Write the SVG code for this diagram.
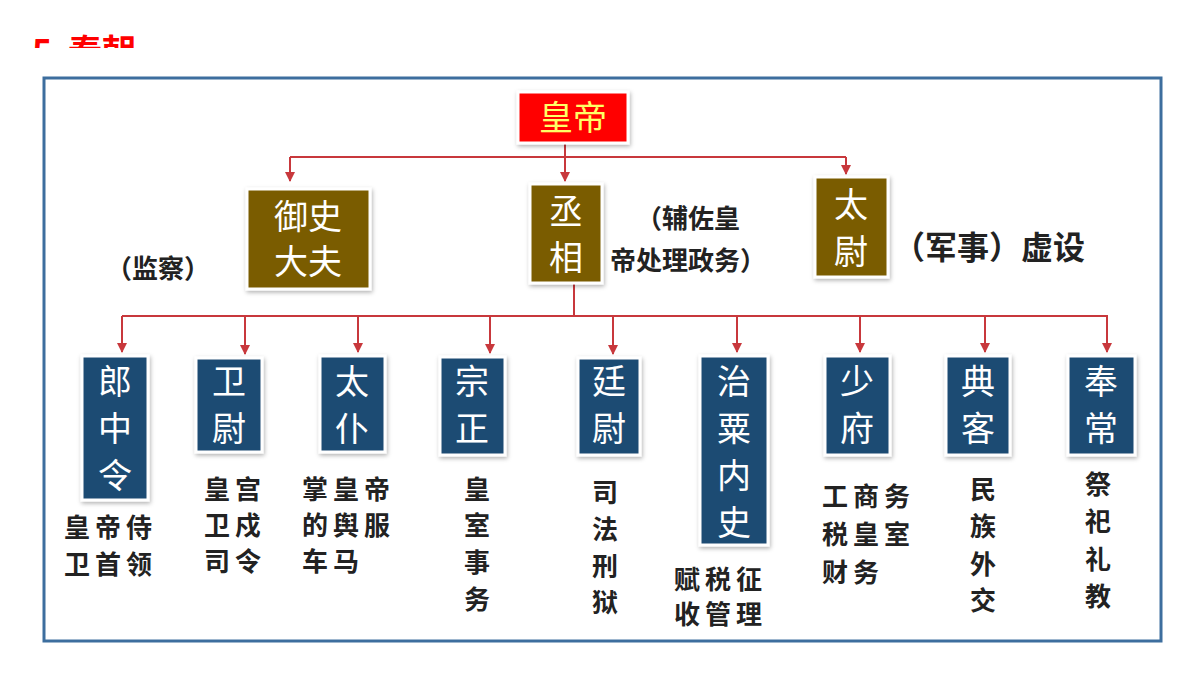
<svg xmlns="http://www.w3.org/2000/svg" width="1200" height="675" viewBox="0 0 1200 675">
<defs>
<style>
.t{font-family:"Noto Sans CJK SC","Noto Sans",sans-serif;}
.bx{stroke:#fff;stroke-width:3;filter:url(#sh);}
.w{fill:#fff;font-size:34px;text-anchor:middle;}
.d{fill:#222;font-size:26px;font-weight:bold;}
.c{fill:none;stroke:#c8383c;stroke-width:2;}
</style>
<filter id="sh" x="-20%" y="-20%" width="140%" height="140%"><feDropShadow dx="1" dy="2" stdDeviation="2" flood-color="#000" flood-opacity="0.3"/></filter>
<marker id="a" markerWidth="12" markerHeight="10" refX="6" refY="9" markerUnits="userSpaceOnUse"><path d="M1,0 L11,0 L6,10 z" fill="#c8383c"/></marker>
<clipPath id="cp"><rect x="0" y="0" width="400" height="48"/></clipPath>
</defs>
<rect width="1200" height="675" fill="#fff"/>
<g clip-path="url(#cp)"><text class="t" x="32" y="64" font-size="34" font-weight="bold" fill="#f00">5</text><text class="t" x="68" y="64" font-size="34" font-weight="bold" fill="#f00">秦朝</text></g>
<rect x="44" y="78" width="1117" height="563" fill="none" stroke="#3d6e9e" stroke-width="3"/>
<g id="connectors">
<path class="c" d="M290,157 H846"/>
<path class="c" d="M290,157 V181" marker-end="url(#a)"/>
<path class="c" d="M565,143 V181" marker-end="url(#a)"/>
<path class="c" d="M846,157 V174" marker-end="url(#a)"/>
<path class="c" d="M574,284 V316 M122,316 H1108"/>
<path class="c" d="M122,316 V352" marker-end="url(#a)"/>
<path class="c" d="M245,316 V354" marker-end="url(#a)"/>
<path class="c" d="M358,316 V352" marker-end="url(#a)"/>
<path class="c" d="M490,316 V353" marker-end="url(#a)"/>
<path class="c" d="M613,316 V354" marker-end="url(#a)"/>
<path class="c" d="M737,316 V352" marker-end="url(#a)"/>
<path class="c" d="M860,316 V352" marker-end="url(#a)"/>
<path class="c" d="M985,316 V352" marker-end="url(#a)"/>
<path class="c" d="M1107,316 V352" marker-end="url(#a)"/>
</g>
<g id="n-huangdi"><rect class="bx" x="518" y="92" width="110" height="51" fill="#f00"/><text class="t" x="573" y="130" font-size="34" text-anchor="middle" fill="#ffff66">皇帝</text></g>
<g id="n-yushi"><rect class="bx" x="247" y="189" width="123" height="100" fill="#7a5c00"/><text class="t w" x="308" y="229">御史</text><text class="t w" x="308" y="274">大夫</text></g>
<text class="t d" x="106" y="278">（监察）</text>
<g id="n-chengxiang"><rect class="bx" x="530" y="184" width="72" height="99" fill="#7a5c00"/><text class="t w" x="566" y="224">丞</text><text class="t w" x="566" y="270">相</text></g>
<text class="t d" x="636" y="228">（辅佐皇</text>
<text class="t d" x="610" y="270">帝处理政务）</text>
<g id="n-taiwei"><rect class="bx" x="815" y="177" width="73" height="100" fill="#7a5c00"/><text class="t w" x="851" y="217">太</text><text class="t w" x="851" y="264">尉</text></g>
<text class="t" x="893" y="259" font-size="32" font-weight="bold" fill="#222">（军事）虚设</text>
<g id="n-langzhongling"><rect class="bx" x="82" y="356" width="66" height="144" fill="#1f4b73"/><text class="t w" x="115" y="394">郎</text><text class="t w" x="115" y="441">中</text><text class="t w" x="115" y="488">令</text></g>
<g id="n-weiwei"><rect class="bx" x="196" y="358" width="66" height="94" fill="#1f4b73"/><text class="t w" x="229" y="394">卫</text><text class="t w" x="229" y="441">尉</text></g>
<g id="n-taipu"><rect class="bx" x="320" y="356" width="65" height="96" fill="#1f4b73"/><text class="t w" x="352" y="394">太</text><text class="t w" x="352" y="441">仆</text></g>
<g id="n-zongzheng"><rect class="bx" x="440" y="357" width="65" height="98" fill="#1f4b73"/><text class="t w" x="472" y="394">宗</text><text class="t w" x="472" y="441">正</text></g>
<g id="n-tingwei"><rect class="bx" x="578" y="358" width="62" height="97" fill="#1f4b73"/><text class="t w" x="609" y="394">廷</text><text class="t w" x="609" y="441">尉</text></g>
<g id="n-zhisu"><rect class="bx" x="700" y="356" width="68" height="189" fill="#1f4b73"/><text class="t w" x="734" y="394">治</text><text class="t w" x="734" y="441">粟</text><text class="t w" x="734" y="488">内</text><text class="t w" x="734" y="535">史</text></g>
<g id="n-shaofu"><rect class="bx" x="825" y="356" width="65" height="99" fill="#1f4b73"/><text class="t w" x="857" y="394">少</text><text class="t w" x="857" y="441">府</text></g>
<g id="n-dianke"><rect class="bx" x="946" y="356" width="64" height="99" fill="#1f4b73"/><text class="t w" x="978" y="394">典</text><text class="t w" x="978" y="441">客</text></g>
<g id="n-fengchang"><rect class="bx" x="1068" y="356" width="67" height="99" fill="#1f4b73"/><text class="t w" x="1101" y="394">奉</text><text class="t w" x="1101" y="441">常</text></g>
<g class="t d" letter-spacing="5">
<text x="64" y="537">皇帝侍</text><text x="64" y="574">卫首领</text>
<text x="204" y="499">皇宫</text><text x="204" y="535">卫戍</text><text x="204" y="571">司令</text>
<text x="302" y="499">掌皇帝</text><text x="302" y="535">的舆服</text><text x="302" y="571">车马</text>
<text x="464" y="499">皇</text><text x="464" y="535">室</text><text x="464" y="572">事</text><text x="464" y="609">务</text>
<text x="592" y="502">司</text><text x="592" y="539">法</text><text x="592" y="576">刑</text><text x="592" y="612">狱</text>
<text x="674" y="589">赋税征</text><text x="674" y="624">收管理</text>
<text x="822" y="506">工商务</text><text x="822" y="544">税皇室</text><text x="822" y="582">财务</text>
<text x="970" y="499">民</text><text x="970" y="536">族</text><text x="970" y="574">外</text><text x="970" y="610">交</text>
<text x="1085" y="494">祭</text><text x="1085" y="531">祀</text><text x="1085" y="569">礼</text><text x="1085" y="606">教</text>
</g>
</svg>
